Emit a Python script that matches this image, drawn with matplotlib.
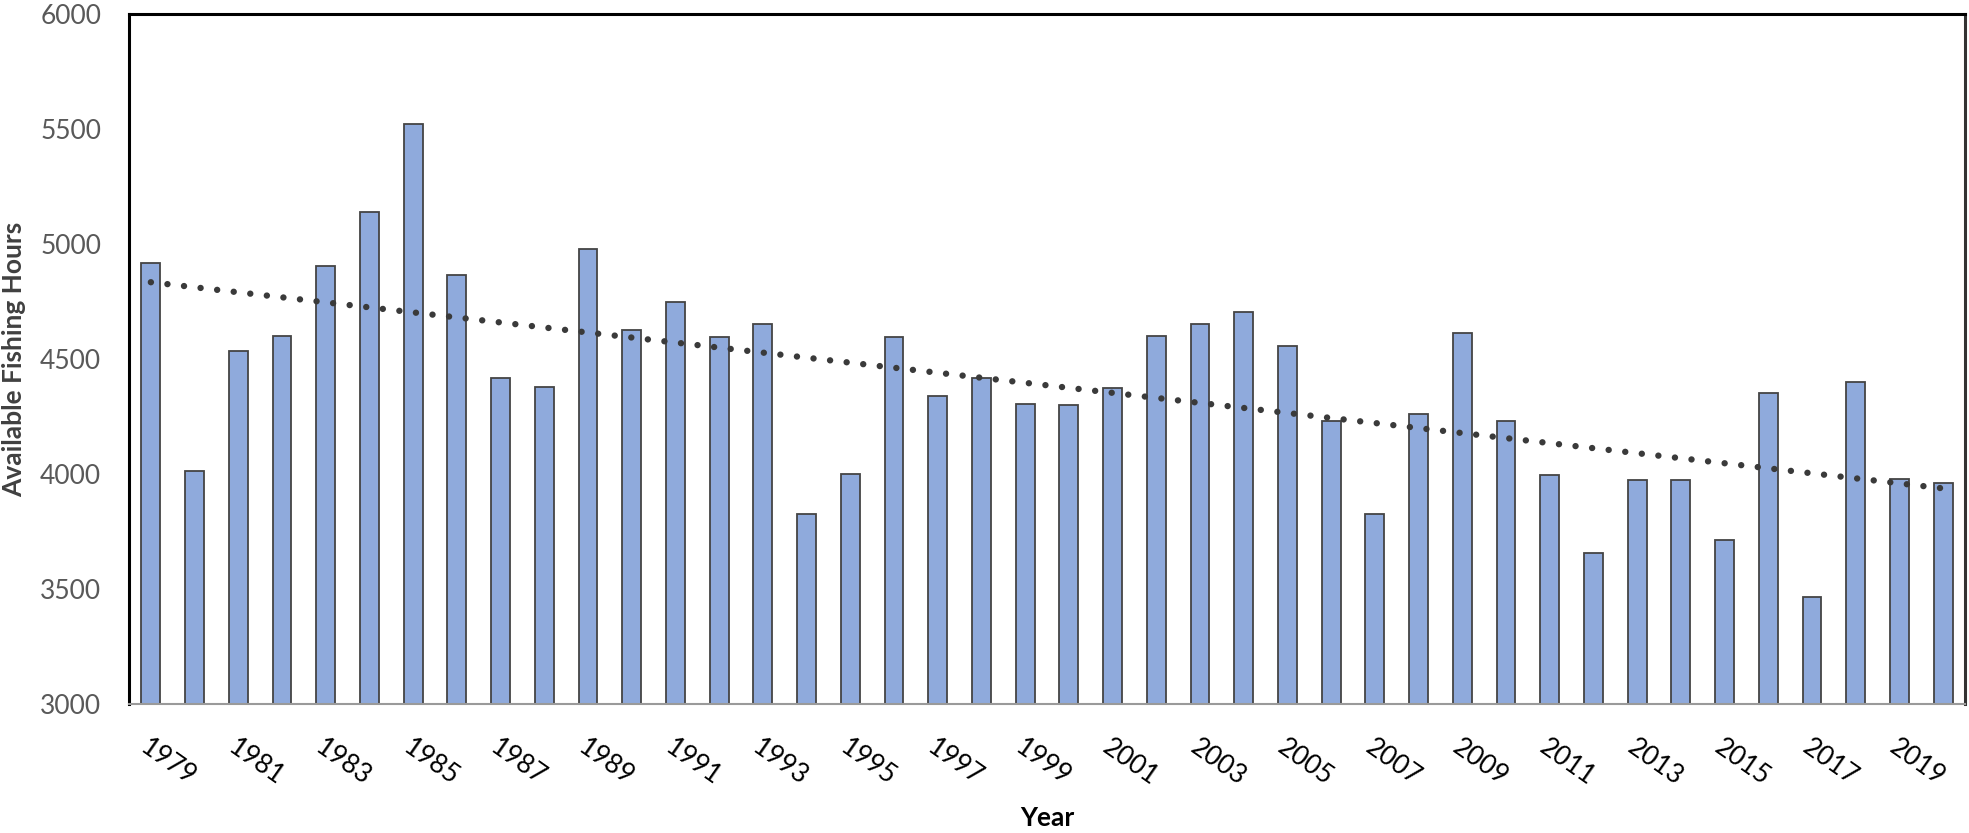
import numpy as np
import matplotlib
matplotlib.use("Agg")
import matplotlib.pyplot as plt

plt.rcParams['font.family'] = ['Lato', 'DejaVu Sans']

# Data
years = list(range(1979, 2021))
hours = [4917, 4014, 4535, 4601, 4906, 5138, 5521, 4864, 4419, 4380,
         4977, 4624, 4750, 4594, 4654, 3828, 3998, 4596, 4339, 4417,
         4306, 4300, 4373, 4598, 4651, 4706, 4558, 4230, 3825, 4263,
         4613, 4232, 3995, 3657, 3972, 3972, 3714, 4353, 3465, 4399,
         3979, 3963]
tick_years = years[::2]
yticks = [3000, 3500, 4000, 4500, 5000, 5500, 6000]

x = np.arange(len(years))

fig = plt.figure(figsize=(19.69, 8.33), dpi=100)
ax = fig.add_axes([129 / 1969, 1 - 704 / 833, 1836 / 1969, 690 / 833])

ax.bar(x, hours, width=0.43, color='#8FAADC', edgecolor='#444444', linewidth=1.3,
       zorder=2)

# linear trend line, like Excel's
coef = np.polyfit(x, hours, 1)
trend = np.polyval(coef, x)
ax.plot(x, trend, color='#3a3a3a', linewidth=4.6, linestyle=(0, (0.01, 2.6)),
        dash_capstyle='round', zorder=3)

ax.set_xlim(-0.5, len(years) - 0.5)
ax.set_ylim(3000, 6000)
ax.set_yticks(yticks)
ax.set_yticklabels([str(v) for v in yticks], fontsize=19, color='#595959')
ax.set_xticks(x[::2])
ax.set_xticklabels([str(y) for y in tick_years], fontsize=19, color='black',
                   rotation=-35, ha='left', va='top', rotation_mode='anchor')
ax.tick_params(axis='y', length=0, pad=20)
ax.tick_params(axis='x', length=0, pad=22)

for side in ['left', 'top', 'right']:
    ax.spines[side].set_linewidth(2.2)
    ax.spines[side].set_color('black')
ax.spines['right'].set_color('#333333')
ax.spines['bottom'].set_linewidth(1.5)
ax.spines['bottom'].set_color('#9a9a9a')
ax.spines['bottom'].set_zorder(4)

ax.set_ylabel('Available Fishing Hours', fontsize=19, fontweight='bold', color='#404040')
ax.yaxis.set_label_coords(-0.056, 0.5)
ax.set_xlabel('Year', fontsize=19, fontweight='bold', color='black')
ax.xaxis.set_label_coords(0.5, -0.148)

fig.savefig('out.png', dpi=100)
